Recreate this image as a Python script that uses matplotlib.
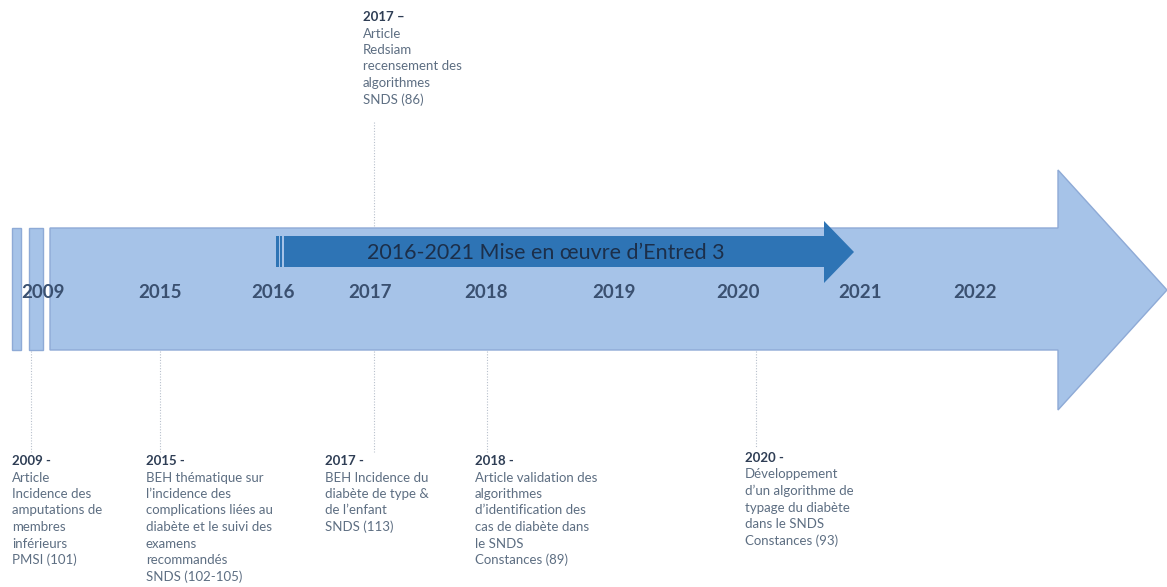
import matplotlib
matplotlib.use("Agg")
import matplotlib.pyplot as plt
from matplotlib.patches import Polygon, Rectangle

plt.rcParams['font.family'] = ['Lato', 'DejaVu Sans']

# ---- data ----
year_labels = ["2009", "2015", "2016", "2017", "2018", "2019", "2020", "2021", "2022"]
banner_text = "2016-2021 Mise en œuvre d’Entred 3"

event_years = ["2009 -", "2015 -", "2017 -", "2018 -", "2020 -", "2017 –"]
event_texts = [
    ["Article", "Incidence des", "amputations de", "membres", "inférieurs", "PMSI (101)"],
    ["BEH thématique sur", "l’incidence des", "complications liées au",
     "diabète et le suivi des", "examens", "recommandés", "SNDS (102-105)"],
    ["BEH Incidence du", "diabète de type &", "de l’enfant", "SNDS (113)"],
    ["Article validation des", "algorithmes", "d’identification des",
     "cas de diabète dans", "le SNDS", "Constances (89)"],
    ["Développement", "d’un algorithme de", "typage du diabète",
     "dans le SNDS", "Constances (93)"],
    ["Article", "Redsiam", "recensement des", "algorithmes", "SNDS (86)"],
]

# ---- layout (pixel coordinates) ----
year_x = [43, 160, 273, 370, 486, 614, 738, 860, 975]
year_y = 293
line_h = 16.5
# event: (text x, header y centre, connector x, connector y0, y1)
event_layout = [
    (12, 461, 31, 351, 452),
    (146, 461, 160, 351, 452),
    (325, 461, 374, 351, 452),
    (475, 461, 487, 351, 452),
    (745, 458, 756, 351, 448),
    (363, 17, 374, 122, 227),
]

W, H = 1167, 587
fig = plt.figure(figsize=(W / 100, H / 100), dpi=100)
ax = fig.add_axes([0, 0, 1, 1])
ax.set_xlim(0, W)
ax.set_ylim(H, 0)
ax.axis('off')

light = "#a6c3e8"
edge = "#8eaad6"
dark = "#2e74b5"

# main arrow
main = Polygon([(50, 228), (1058, 228), (1058, 170), (1167, 290),
                (1058, 410), (1058, 350), (50, 350)],
               closed=True, facecolor=light, edgecolor=edge, lw=1.0, zorder=1)
ax.add_patch(main)
# small bars at left
ax.add_patch(Rectangle((12, 228), 9, 122, facecolor=light, edgecolor=edge, lw=1.0, zorder=1))
ax.add_patch(Rectangle((29, 228), 14, 122, facecolor=light, edgecolor=edge, lw=1.0, zorder=1))

# dark inner arrow
inner = Polygon([(284, 236), (824, 236), (824, 221), (854, 252),
                 (824, 283), (824, 267), (284, 267)],
                closed=True, facecolor=dark, edgecolor="none", zorder=2)
ax.add_patch(inner)
ax.add_patch(Rectangle((276, 236), 3, 31, facecolor=dark, edgecolor="none", zorder=2))
ax.add_patch(Rectangle((280, 236), 2, 31, facecolor=dark, edgecolor="none", zorder=2))
ax.text(546, 253, banner_text, fontsize=15.5, color="#1c2f4a",
        ha="center", va="center", zorder=3)

# year labels
for x, lab in zip(year_x, year_labels):
    ax.text(x, year_y, lab, fontsize=13.5, fontweight="bold", color="#3a5070",
            ha="center", va="center", zorder=3)

# events
for (tx, ty, cx, cy0, cy1), yr, lines in zip(event_layout, event_years, event_texts):
    ax.plot([cx, cx], [cy0, cy1], color="#b8c0cc", lw=0.8, ls=(0, (1, 1.5)), zorder=0)
    ax.text(tx, ty, yr, fontsize=9.5, fontweight="bold", color="#2f3e55",
            ha="left", va="center", zorder=3)
    for i, ln in enumerate(lines, start=1):
        ax.text(tx, ty + i * line_h, ln, fontsize=9.5, color="#5d6e82",
                ha="left", va="center", zorder=3)

fig.savefig("out.png", dpi=100)
